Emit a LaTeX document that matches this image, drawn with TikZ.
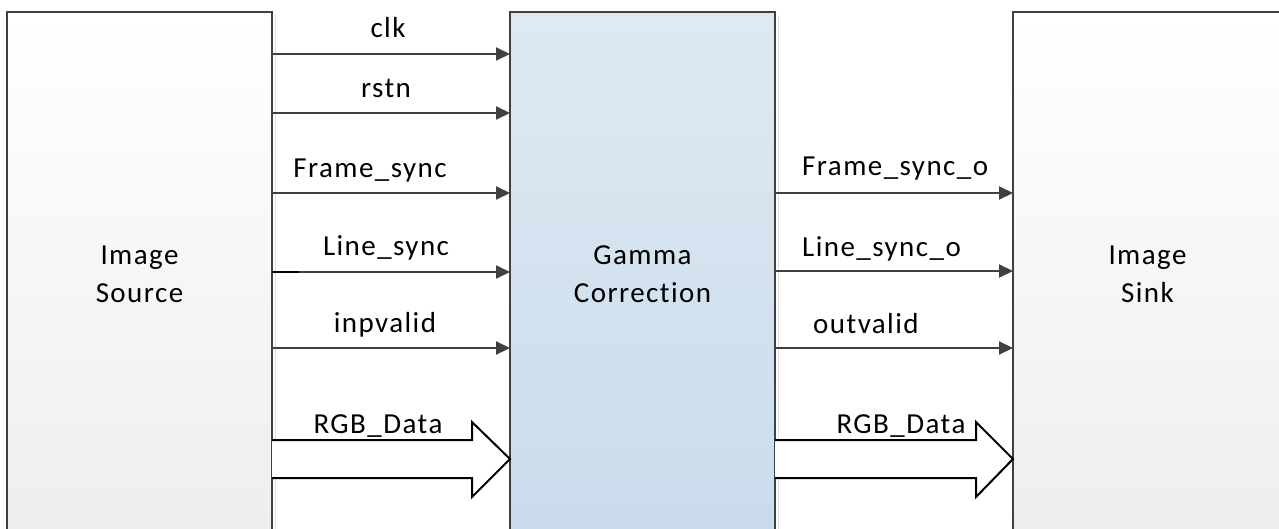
\documentclass[tikz,border=0pt]{standalone}
\usepackage{fontspec}
\setmainfont{Carlito}[Ligatures={NoCommon},LetterSpace=5]
\usetikzlibrary{arrows.meta}
\definecolor{edge}{HTML}{404040}
\definecolor{midtop}{HTML}{DFE9F3}
\definecolor{midbot}{HTML}{C8DBEB}
\definecolor{sidebot}{HTML}{EDEDED}
\tikzset{
  blk/.style={draw=edge, line width=2pt, rectangle, inner sep=0pt, align=center,
    font=\fontsize{29}{38}\selectfont},
  shadowbox/.style={fill=black!12, draw=none},
  sig/.style={draw=edge, line width=2pt, -{Triangle[length=14pt,width=13pt]}},
  lbl/.style={font=\fontsize{29}{34}\selectfont, inner sep=0pt},
  bus/.style={draw=black, line width=2pt, line join=miter},
}
\begin{document}
\begin{tikzpicture}[x=1pt,y=-1pt]
\clip (0,0) rectangle (1279,528);
\fill[white] (0,0) rectangle (1279,528);
% shadows
\fill[shadowbox] (275,15) rectangle (276,560);
\fill[shadowbox] (778,15) rectangle (779,560);
% boxes
\path[top color=white, bottom color=sidebot, draw=edge, line width=2pt] (7,12) rectangle (272,560);
\path[top color=midtop, bottom color=midbot, draw=edge, line width=2pt] (510,12) rectangle (775,560);
\path[top color=white, bottom color=sidebot, draw=edge, line width=2pt] (1013,12) rectangle (1282,560);
\node[blk, draw=none] (src) at (139.5,274) {Image\\Source};
\node[blk, draw=none] (gam) at (642.5,274) {Gamma\\Correction};
\node[blk, draw=none] (snk) at (1147.5,274) {Image\\Sink};
% named coordinates on box edges
\coordinate (sE) at (272,0);
\coordinate (gW) at (510,0);
\coordinate (gE) at (775,0);
\coordinate (kW) at (1013,0);
% input signals
\draw[sig] (sE |- 0,54) -- (gW |- 0,54);
\draw[sig] (sE |- 0,113) -- (gW |- 0,113);
\draw[sig] (sE |- 0,193) -- (gW |- 0,193);
\draw[sig] (sE |- 0,272) -- (gW |- 0,272);
\draw[black, line width=2pt] (sE |- 0,272) -- ++(27,0);
\draw[sig] (sE |- 0,348) -- (gW |- 0,348);
\node[lbl, anchor=base] (lclk) at (388,37) {clk};
\node[lbl, anchor=base] (lrst) at (386,97) {rstn};
\node[lbl, anchor=base] (lfs) at (370,177) {Frame\_sync};
\node[lbl, anchor=base] (lls) at (386,255) {Line\_sync};
\node[lbl, anchor=base] (liv) at (385,332) {inpvalid};
% output signals
\draw[sig] (gE |- 0,193) -- (kW |- 0,193);
\draw[sig] (gE |- 0,271) -- (kW |- 0,271);
\draw[sig] (gE |- 0,348) -- (kW |- 0,348);
\node[lbl, anchor=base west] (lfso) at (802,175) {Frame\_sync\_o};
\node[lbl, anchor=base west] (llso) at (802,256) {Line\_sync\_o};
\node[lbl, anchor=base west] (lov) at (813,333) {outvalid};
% buses
\draw[bus, fill=white] (sE |- 0,440) -- (472,440) -- (472,422) -- (gW |- 0,459) -- (472,497) -- (472,478) -- (sE |- 0,478);
\draw[bus, fill=white] (gE |- 0,440) -- (976,440) -- (976,422) -- (kW |- 0,459) -- (976,497) -- (976,478) -- (gE |- 0,478);
\node[lbl, anchor=base] (lrgb1) at (378,433) {RGB\_Data};
\node[lbl, anchor=base] (lrgb2) at (901,433) {RGB\_Data};
\end{tikzpicture}
\end{document}
